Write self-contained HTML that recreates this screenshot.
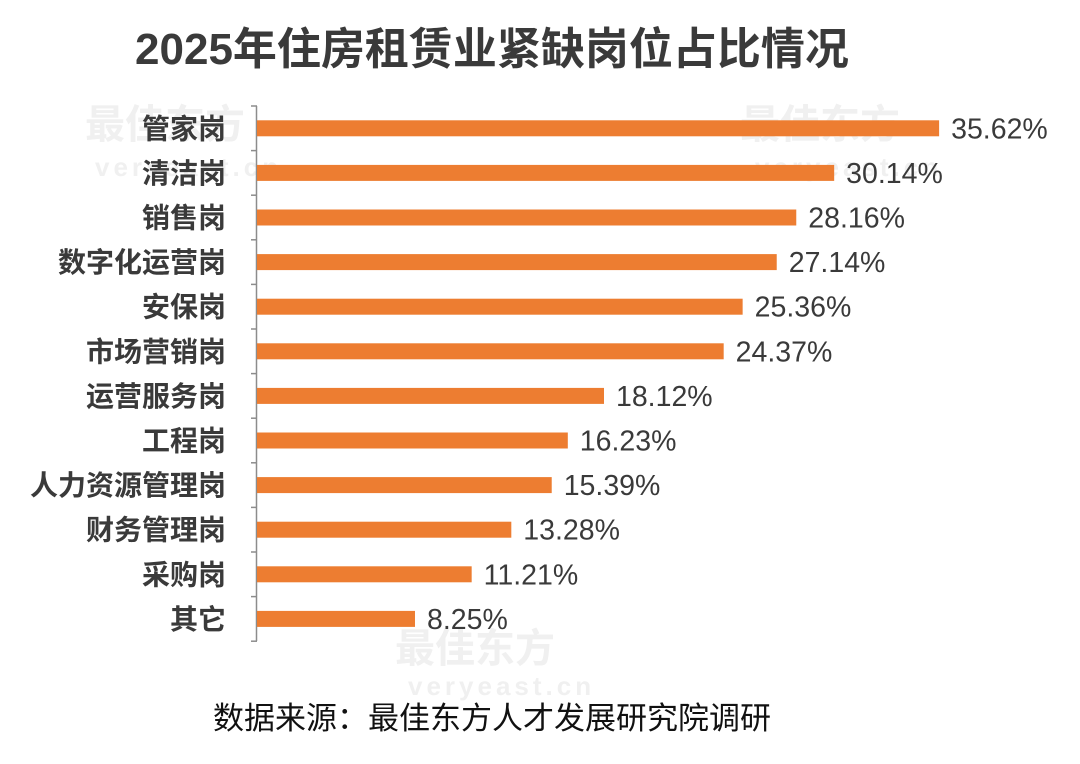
<!DOCTYPE html>
<html><head><meta charset="utf-8"><style>
body{margin:0;background:#fff;width:1080px;height:759px;overflow:hidden}
svg text{font-family:"Liberation Sans","Noto Sans CJK SC",sans-serif}
</style></head><body>
<svg width="1080" height="759" viewBox="0 0 1080 759">
<g fill="#f0f0f0" font-weight="bold" font-size="40">
<text x="85" y="138">最佳东方</text>
<text x="740" y="138">最佳东方</text>
<text x="395" y="662">最佳东方</text>
</g>
<g fill="#f0f0f0" font-weight="bold" font-size="26" letter-spacing="4">
<text x="95" y="176">veryeast.cn</text>
<text x="755" y="176">veryeast.cn</text>
<text x="408" y="695">veryeast.cn</text>
</g>
<text x="492" y="64" text-anchor="middle" font-size="44" font-weight="bold" fill="#3a3a3a">2025年住房租赁业紧缺岗位占比情况</text>
<g id="c"></g>
<text x="492" y="729" text-anchor="middle" font-size="31" fill="#111">数据来源：最佳东方人才发展研究院调研</text>
</svg>
<script>
var d=[["管家岗",35.62],["清洁岗",30.14],["销售岗",28.16],["数字化运营岗",27.14],["安保岗",25.36],["市场营销岗",24.37],["运营服务岗",18.12],["工程岗",16.23],["人力资源管理岗",15.39],["财务管理岗",13.28],["采购岗",11.21],["其它",8.25]];
var s='',st=44.6,y0=106;
s+='<line x1="256.5" y1="106" x2="256.5" y2="641" stroke="#8c8c8c" stroke-width="1.5"/>';
for(var i=0;i<=12;i++){var y=y0+i*st;s+='<line x1="251" y1="'+y+'" x2="257" y2="'+y+'" stroke="#8c8c8c" stroke-width="1.5"/>';}
d.forEach(function(r,i){var c=y0+st*(i+.5),w=r[1]*19.15;
s+='<rect x="257" y="'+(c-8)+'" width="'+w+'" height="16" fill="#ED7D31"/>';
s+='<text x="226" y="'+(c+10)+'" text-anchor="end" font-size="28" font-weight="bold" fill="#3a3a3a">'+r[0]+'</text>';
s+='<text x="'+(257+w+12)+'" y="'+(c+10)+'" font-size="28.5" fill="#3a3a3a">'+r[1].toFixed(2)+'%</text>';});
document.getElementById('c').innerHTML=s;
</script>
</body></html>
